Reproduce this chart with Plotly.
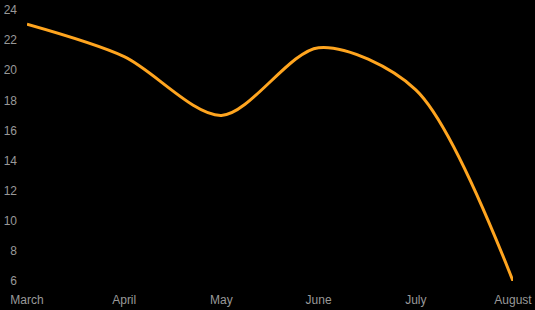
import plotly.graph_objects as go

months = ["March", "April", "May", "June", "July", "August"]
values = [23.05, 20.9, 17.0, 21.5, 18.7, 6.0]
y_ticks = [6, 8, 10, 12, 14, 16, 18, 20, 22, 24]

fig = go.Figure(go.Scatter(
    x=months, y=values, mode="lines",
    line=dict(color="#FFA51F", width=3, shape="spline", smoothing=0.85),
    hoverinfo="skip",
))

fig.update_layout(
    template="none",
    width=535, height=310,
    paper_bgcolor="black", plot_bgcolor="black",
    margin=dict(l=27, r=22, t=10, b=29),
    font=dict(family="Liberation Sans, Arial, sans-serif", size=12, color="#999999"),
    showlegend=False,
    xaxis=dict(type="category", range=[0, 5], showgrid=False, zeroline=False,
               showline=False, ticks="", ticklabelstandoff=10, automargin=False,
               tickfont=dict(size=12, color="#999999")),
    yaxis=dict(range=[6, 24], tickvals=y_ticks, showgrid=False, zeroline=False,
               showline=False, ticks="", ticklabelstandoff=9, automargin=False,
               tickfont=dict(size=12, color="#999999")),
)

fig.write_html("out.html")
